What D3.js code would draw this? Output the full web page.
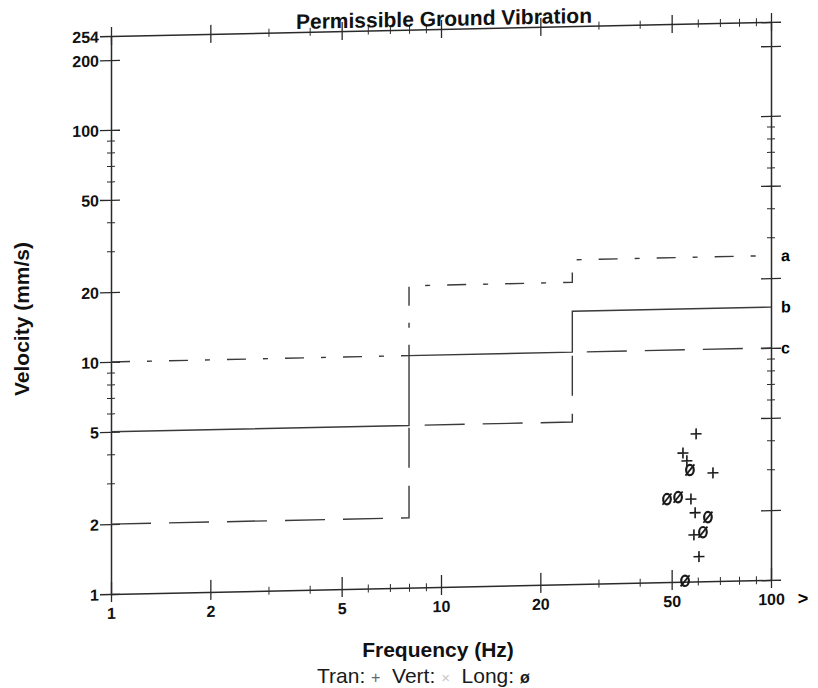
<!DOCTYPE html>
<html>
<head>
<meta charset="utf-8">
<script src="https://cdn.jsdelivr.net/npm/d3@7"></script>
<style>
  body { margin: 0; background: #fff; }
  svg { font-family: "Liberation Sans", Arial, sans-serif; }
  .axis path, .axis line { stroke: #2a2a2a; }
  .axis text { font-family: "Liberation Sans", Arial, sans-serif; font-size: 16px; font-weight: bold; fill: #111; }
</style>
</head>
<body>
<svg id="chart" width="818" height="688"></svg>
<script>
// limit lines (DGMS style steps): values hold between the frequency breaks
var freqBreaks = [1, 8, 25, 100];
var lineA = [10, 20, 25];
var lineB = [5, 10, 15];
var lineC = [2, 5, 10];

// measured peaks
var tranFreq = [59.3, 54.1, 55.6, 66.7, 57.2, 58.9, 58.4, 60.5];
var tranVel = [4.33, 3.59, 3.32, 2.93, 2.27, 1.98, 1.59, 1.28];
var vertFreq = [];
var vertVel = [];
var longFreq = [56.8, 48.4, 52.3, 64.4, 62.2, 54.9];
var longVel = [3.03, 2.28, 2.32, 1.89, 1.63, 1.01];

// ticks
var xMajor = [1, 2, 5, 10, 20, 50, 100];
var xMinor = [3, 4, 6, 7, 8, 9, 30, 40, 60, 70, 80, 90];
var yMajor = [1, 2, 5, 10, 20, 50, 100, 200, 254];
var yMinor = [3, 4, 6, 7, 8, 9, 30, 40, 60, 70, 80, 90];

var svg = d3.select("#chart");

var pLeft = 111, pRight = 771, pTop = 36, pBottom = 594;
var x = d3.scaleLog().domain([1, 100]).range([pLeft, pRight]);
var y = d3.scaleLog().domain([1, 254]).range([pBottom, pTop]);

// the scanned sheet is slightly sheared, keep that
var k = -0.02125;
var plot = svg.append("g")
  .attr("transform", "matrix(1," + k + ",0,1,0," + (-k * pLeft) + ")");

function ticks(axis, pos, values, size, labels) {
  var g = plot.append("g")
    .attr("class", "axis")
    .attr("transform", pos)
    .call(axis.tickValues(values).tickSize(size).tickSizeOuter(0)
      .tickFormat(labels ? d3.format("d") : ""));
  g.selectAll("line").attr("stroke-width", size > 5 ? 1.3 : 1);
  return g;
}

// left axis
var yl = ticks(d3.axisLeft(y), "translate(" + pLeft + ",0)", yMajor, 11, true);
yl.select(".domain").attr("stroke-width", 1.5);
yl.selectAll("text").attr("x", -12).attr("dy", "0.36em");
ticks(d3.axisRight(y), "translate(" + pLeft + ",0)", yMajor.filter(d => d < 254), 9, false).select(".domain").remove();
ticks(d3.axisLeft(y), "translate(" + pLeft + ",0)", yMinor, 4, false).select(".domain").remove();
ticks(d3.axisRight(y), "translate(" + pLeft + ",0)", yMinor, 4, false).select(".domain").remove();

// right axis
ticks(d3.axisRight(y), "translate(" + pRight + ",0)", yMajor, 10, false).select(".domain").attr("stroke-width", 1.5);
ticks(d3.axisLeft(y), "translate(" + pRight + ",0)", yMajor, 10, false).select(".domain").remove();
ticks(d3.axisRight(y), "translate(" + pRight + ",0)", yMinor, 4, false).select(".domain").remove();
ticks(d3.axisLeft(y), "translate(" + pRight + ",0)", yMinor, 4, false).select(".domain").remove();

// bottom axis
var xb = ticks(d3.axisBottom(x), "translate(0," + pBottom + ")", xMajor, 8, true);
xb.select(".domain").attr("stroke-width", 1.5);
xb.selectAll("text").attr("y", 25).attr("dy", 0);
ticks(d3.axisTop(x), "translate(0," + pBottom + ")", xMajor, 12, false).select(".domain").remove();
ticks(d3.axisBottom(x), "translate(0," + pBottom + ")", xMinor, 4, false).select(".domain").remove();
ticks(d3.axisTop(x), "translate(0," + pBottom + ")", xMinor, 4, false).select(".domain").remove();

// top axis
ticks(d3.axisTop(x), "translate(0," + pTop + ")", xMajor, 9, false).select(".domain").attr("stroke-width", 1.5);
ticks(d3.axisBottom(x), "translate(0," + pTop + ")", xMajor, 9, false).select(".domain").remove();
ticks(d3.axisTop(x), "translate(0," + pTop + ")", xMinor, 4, false).select(".domain").remove();
ticks(d3.axisBottom(x), "translate(0," + pTop + ")", xMinor, 4, false).select(".domain").remove();

plot.append("text")
  .attr("x", 803).attr("y", pBottom + 25)
  .attr("text-anchor", "middle")
  .attr("font-size", 18).attr("font-weight", "bold")
  .text(">");

// title
plot.append("text")
  .attr("x", 444).attr("y", 33)
  .attr("text-anchor", "middle")
  .attr("font-size", 21).attr("font-weight", "bold")
  .attr("fill", "#111")
  .text("Permissible Ground Vibration");

// step lines
function steps(vals) {
  var pts = [];
  vals.forEach(function(v, i) {
    pts.push([freqBreaks[i], v], [freqBreaks[i + 1], v]);
  });
  return pts;
}
var line = d3.line().x(d => x(d[0])).y(d => y(d[1]));
var limits = [
  { name: "a", vals: lineA, dash: "19,17,5,17" },
  { name: "b", vals: lineB, dash: null },
  { name: "c", vals: lineC, dash: "40,18" }
];
plot.selectAll(".limit")
  .data(limits)
  .enter()
  .append("path")
    .attr("class", "limit")
    .attr("d", d => line(steps(d.vals)))
    .attr("fill", "none")
    .attr("stroke", "#3a3a3a")
    .attr("stroke-width", 1.4)
    .attr("stroke-dasharray", d => d.dash);

plot.selectAll(".limit-label")
  .data(limits)
  .enter()
  .append("text")
    .attr("x", pRight + 10)
    .attr("y", d => y(d.vals[d.vals.length - 1]))
    .attr("dy", "0.36em")
    .attr("font-size", 16).attr("font-weight", "bold")
    .text(d => d.name);

// transverse: plus
var tran = tranFreq.map((f, i) => [f, tranVel[i]]);
plot.selectAll(".tran")
  .data(tran)
  .enter()
  .append("path")
    .attr("class", "tran")
    .attr("transform", d => "translate(" + x(d[0]) + "," + y(d[1]) + ")")
    .attr("d", "M-5.5,0H5.5M0,-5.5V5.5")
    .attr("stroke", "#1a1a1a")
    .attr("stroke-width", 1.6);

// vertical: cross (none recorded)
var vert = vertFreq.map((f, i) => [f, vertVel[i]]);
plot.selectAll(".vert")
  .data(vert)
  .enter()
  .append("path")
    .attr("class", "vert")
    .attr("transform", d => "translate(" + x(d[0]) + "," + y(d[1]) + ")")
    .attr("d", "M-4,-4L4,4M-4,4L4,-4")
    .attr("stroke", "#999");

// longitudinal: slashed zero
var long = longFreq.map((f, i) => [f, longVel[i]]);
var lg = plot.selectAll(".long")
  .data(long)
  .enter()
  .append("g")
    .attr("class", "long")
    .attr("transform", d => "translate(" + x(d[0]) + "," + y(d[1]) + ")");
lg.append("ellipse")
  .attr("rx", 3.8).attr("ry", 5.2)
  .attr("fill", "none").attr("stroke", "#1a1a1a").attr("stroke-width", 2.2);
lg.append("path")
  .attr("d", "M-4.5,5.5L4.5,-5.5")
  .attr("stroke", "#1a1a1a").attr("stroke-width", 1.8);

// axis titles
svg.append("text")
  .attr("transform", "translate(29,319) rotate(-90)")
  .attr("text-anchor", "middle")
  .attr("font-size", 21).attr("font-weight", "bold")
  .attr("fill", "#111")
  .text("Velocity (mm/s)");

svg.append("text")
  .attr("x", 438).attr("y", 657)
  .attr("text-anchor", "middle")
  .attr("font-size", 21).attr("font-weight", "bold")
  .attr("fill", "#111")
  .text("Frequency (Hz)");

// legend
var legend = svg.append("text")
  .attr("x", 317).attr("y", 683)
  .attr("font-size", 21)
  .attr("fill", "#1a1a1a")
  .style("white-space", "pre");
legend.append("tspan").text("Tran: ");
legend.append("tspan").attr("font-size", 16).attr("fill", "#666").text("+");
legend.append("tspan").text("  Vert: ");
legend.append("tspan").attr("font-size", 15).attr("fill", "#c8c8c8").text("×");
legend.append("tspan").text("  Long: ");
legend.append("tspan").attr("font-size", 16).attr("font-weight", "bold").text("ø");
</script>
</body>
</html>
